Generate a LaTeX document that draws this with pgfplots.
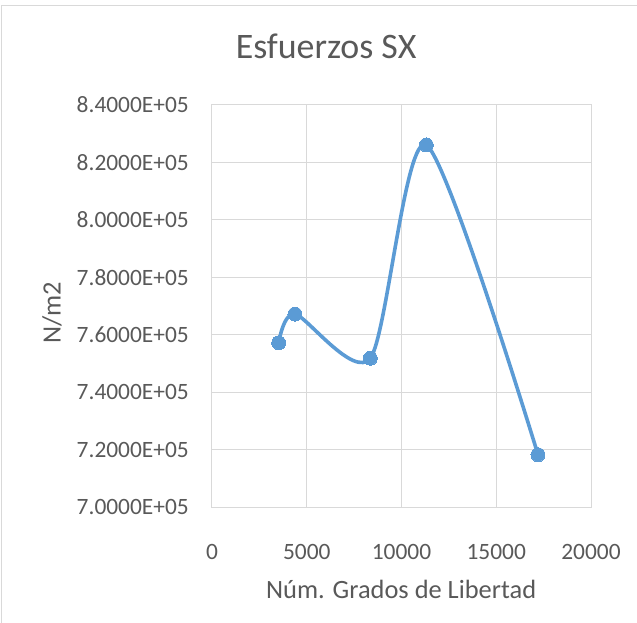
\documentclass[border=0pt]{standalone}
\usepackage{fontspec}
\setmainfont{Carlito}
\usepackage{pgfplots}
\pgfplotsset{compat=1.18}
\definecolor{exblue}{HTML}{5B9BD5}
\definecolor{extext}{HTML}{595959}
\definecolor{exgrid}{HTML}{D9D9D9}
\definecolor{exframe}{HTML}{D9D9D9}
\begin{document}
\begin{tikzpicture}
\useasboundingbox (-212bp,-116bp) rectangle (425bp,507bp);
\draw[exframe, line width=1bp] (-210.5bp,-120bp) -- (-210.5bp,501bp) -- (430bp,501bp);
\begin{axis}[
  at={(0,0)}, anchor=south west,
  scale only axis,
  width=379bp, height=402bp,
  xmin=0, xmax=20000, ymin=700000, ymax=840000,
  xtick={0,5000,10000,15000,20000},
  xticklabels={0,5000,10000,15000,20000},
  ytick={700000,720000,740000,760000,780000,800000,820000,840000},
  yticklabels={7.0000E+05,7.2000E+05,7.4000E+05,7.6000E+05,7.8000E+05,8.0000E+05,8.2000E+05,8.4000E+05},
  scaled x ticks=false, scaled y ticks=false,
  major tick length=0pt,
  grid=major,
  major grid style={exgrid, line width=1bp},
  axis line style={exgrid, line width=1bp},
  tick label style={font=\fontsize{23.5}{26}\selectfont, text=extext},
  xticklabel style={anchor=center, yshift=-45bp, inner sep=0pt},
  yticklabel style={anchor=east, xshift=-23bp, inner sep=0pt},
  xlabel={Núm. Grados de Libertad},
  ylabel={N/m2},
  label style={font=\fontsize{26.5}{30}\selectfont, text=extext},
  xlabel style={at={(axis description cs:0.499,-0.204)}, anchor=center},
  ylabel style={at={(axis description cs:-0.422,0.483)}, anchor=center, rotate=0},
  title={Esfuerzos SX},
  title style={at={(axis description cs:0.301,1.1318)}, anchor=center, font=\fontsize{36}{40}\selectfont, text=extext},
  clip=false,
]
\addplot[exblue, line width=3.6bp, smooth, tension=0.45,
  mark=*, mark size=7bp, mark options={fill=exblue, draw=exblue, line width=0pt}]
  coordinates {(3520,757200) (4380,767200) (8355,751800) (11310,826070) (17203,718200)};
\end{axis}
\end{tikzpicture}
\end{document}
